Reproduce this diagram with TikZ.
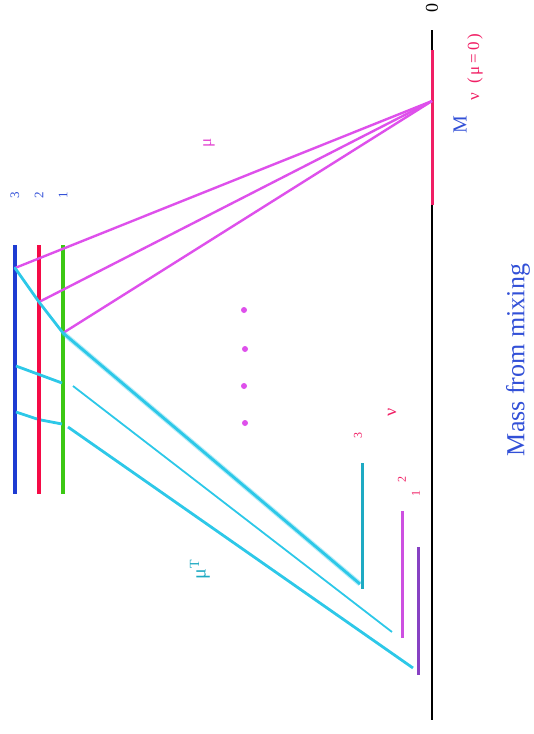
\documentclass[tikz,border=0pt]{standalone}
\usepackage{fontspec}
\setmainfont{Liberation Serif}
\begin{document}
\begin{tikzpicture}[x=1pt,y=-1pt]
\definecolor{cyanl}{RGB}{45,200,232}
\definecolor{magl}{RGB}{222,80,235}
\definecolor{nured}{RGB}{240,30,100}
\definecolor{mblue}{RGB}{30,60,210}
\definecolor{mred}{RGB}{245,10,70}
\definecolor{mgreen}{RGB}{60,200,20}
\definecolor{teal3}{RGB}{30,170,195}
\definecolor{mag2}{RGB}{205,80,225}
\definecolor{pur1}{RGB}{135,65,195}
\definecolor{lblue}{RGB}{50,80,215}
\tikzset{
  lbl/.style={rotate=90,inner sep=0pt},
  mline/.style={magl,line width=2.4pt},
  cline/.style={cyanl,line width=2.8pt},
  vline/.style={line width=4pt},
  sline/.style={line width=3pt},
  dotm/.style={circle,fill=magl,inner sep=0pt,minimum size=6pt}
}
\useasboundingbox (0,0) rectangle (534,734);
% zero axis
\coordinate (z0) at (432,30);
\coordinate (z1) at (432,720);
\coordinate (r0) at (432,50);
\coordinate (r1) at (432,205);
\coordinate (c) at (432,101);
\draw[black,line width=1.5pt] (z0) -- (z1);
\draw[nured,line width=3pt] (r0) -- (r1);
% M lines
\coordinate (b0) at (15,245); \coordinate (b1) at (15,494);
\coordinate (d0) at (39,245); \coordinate (d1) at (39,494);
\coordinate (g0) at (63,245); \coordinate (g1) at (63,494);
\draw[vline,mblue] (b0) -- (b1);
\draw[vline,mred] (d0) -- (d1);
\draw[vline,mgreen] (g0) -- (g1);
% junction points
\coordinate (p3) at (15,268);
\coordinate (p2) at (39,302);
\coordinate (p1) at (63,333);
% magenta mu lines
\draw[mline] (c) -- (p3);
\draw[mline] (c) -- (p2);
\draw[mline] (c) -- (p1);
% cyan mu^T lines
\coordinate (e3) at (360,584);
\draw[cline,line cap=round] (p3) -- (p2) -- (p1);
\draw[cyanl,opacity=0.35,line width=5pt] (p1) -- (e3);
\draw[cline] (p1) -- (e3);
\coordinate (q3) at (16,366); \coordinate (q1) at (62,383);
\coordinate (f0) at (73,386); \coordinate (f1) at (392,632);
\draw[cline] (q3) -- (q1);
\draw[cyanl,line width=1.8pt] (f0) -- (f1);
\coordinate (s3) at (16,412); \coordinate (s2) at (37,419);
\coordinate (s2b) at (41,420); \coordinate (s1) at (62,424);
\coordinate (h0) at (68,427); \coordinate (h1) at (413,668);
\draw[cline] (s3) -- (s2);
\draw[cline] (s2b) -- (s1);
\draw[cline] (h0) -- (h1);
% short nu lines
\coordinate (t0) at (362,463); \coordinate (t1) at (362,589);
\coordinate (m0) at (402,511); \coordinate (m1) at (402,638);
\coordinate (u0) at (418,547); \coordinate (u1) at (418,675);
\draw[sline,teal3] (t0) -- (t1);
\draw[sline,mag2] (m0) -- (m1);
\draw[sline,pur1] (u0) -- (u1);
% dots
\node[dotm] (dA) at (244,310) {};
\node[dotm] (dB) at (245,349) {};
\node[dotm] (dC) at (244,386) {};
\node[dotm] (dD) at (245,423) {};
% labels
\node[lbl,font=\fontsize{18}{18}\selectfont] (lz) at (432,8) {0};
\node[lbl,nured,font=\fontsize{17}{17}\selectfont] (lnu0) at (475,67) {ν\ \ (\,μ\,=\,0\,)};
\node[lbl,lblue,font=\fontsize{20}{20}\selectfont] (lM) at (460,125) {M};
\node[lbl,magl!80!nured,font=\fontsize{17}{17}\selectfont] (lmu) at (209,143) {μ};
\node[lbl,lblue,font=\fontsize{13}{13}\selectfont] (l3) at (15,195) {3};
\node[lbl,lblue,font=\fontsize{13}{13}\selectfont] (l2) at (39,195) {2};
\node[lbl,lblue,font=\fontsize{13}{13}\selectfont] (l1) at (63,195) {1};
\node[lbl,nured,font=\fontsize{18}{18}\selectfont] (lnu) at (392,412) {ν};
\node[lbl,nured,font=\fontsize{12}{12}\selectfont] (n3) at (358,435) {3};
\node[lbl,nured,font=\fontsize{12}{12}\selectfont] (n2) at (402,479) {2};
\node[lbl,nured,font=\fontsize{12}{12}\selectfont] (n1) at (416,493) {1};
\node[lbl,teal3,font=\fontsize{20}{20}\selectfont] (lmuT) at (200,570) {μ\raisebox{0.7ex}{\fontsize{14}{14}\selectfont T}};
\node[lbl,lblue,font=\fontsize{26}{26}\selectfont] (title) at (518,360) {Mass from mixing};
\end{tikzpicture}
\end{document}
